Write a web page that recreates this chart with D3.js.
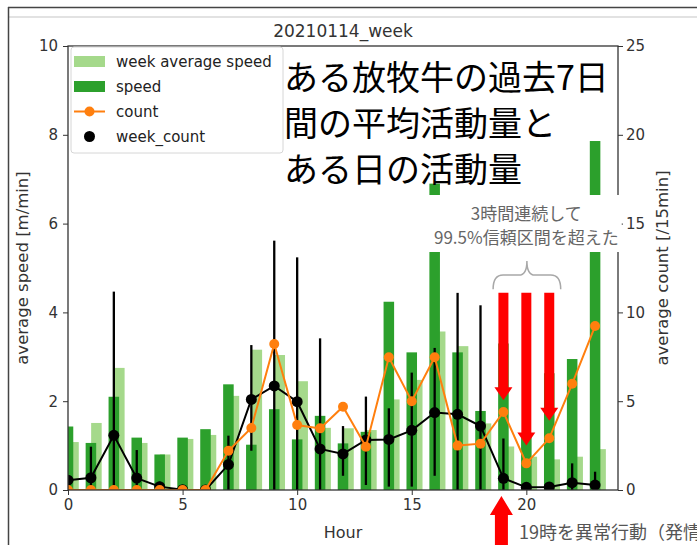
<!DOCTYPE html>
<html>
<head>
<meta charset="utf-8">
<script src="https://cdn.jsdelivr.net/npm/d3@7"></script>
<style>
body { margin: 0; background: #fff; }
svg { display: block; font-family: "DejaVu Sans", sans-serif; }
.jp { font-family: "Noto Sans CJK JP", sans-serif; }
</style>
</head>
<body>
<div class="container"></div>
<script>
// values, one per hour
var hours = [0,1,2,3,4,5,6,7,8,9,10,11,12,13,14,15,16,17,18,19,20,21,22,23];
var weekSpeed = [1.08,1.51,2.75,1.06,0.80,1.15,1.24,2.12,3.16,3.04,2.45,1.40,1.39,1.35,2.04,2.48,3.57,3.24,1.50,0.98,0.75,0.69,0.75,0.92];
var speed = [1.43,1.06,2.10,1.18,0.80,1.18,1.37,2.38,1.02,1.82,1.14,1.67,1.05,1.31,4.24,3.10,6.90,3.10,1.78,3.30,1.20,2.63,2.95,7.86];
var count = [0,0,0,0,0,0,0,2.21,3.49,8.22,3.66,3.47,4.69,2.44,7.47,5.00,7.47,2.50,2.61,4.39,1.50,2.91,5.98,9.23];
var weekCount = [0.55,0.69,3.08,0.67,0.19,0.02,0.00,1.43,5.10,5.86,4.97,2.31,2.03,2.82,2.85,3.36,4.36,4.26,3.60,0.66,0.15,0.17,0.41,0.28];
var weekCountLow = [0.35,0.10,0.10,0.10,0.00,0.00,0.00,0.00,2.21,0.00,0.00,0.00,0.80,0.28,0.19,0.19,0.80,0.00,0.00,0.00,0.00,0.00,0.00,0.00];
var weekCountHigh = [0.75,2.44,11.17,2.25,0.47,0.10,0.00,3.06,8.16,14.04,13.10,8.54,3.60,5.26,4.60,6.61,8.00,11.10,10.40,2.90,0.30,0.30,1.50,1.03];

var xTicks = [0,5,10,15,20];
var speedTicks = [0,2,4,6,8,10];
var countTicks = [0,5,10,15,20,25];

var titleText = '20210114_week';
var legendLabels = ['week average speed', 'speed', 'count', 'week_count'];
var noteLines = ['ある放牧牛の過去7日', '間の平均活動量と', 'ある日の活動量'];
var alertLines = ['3時間連続して', '99.5%信頼区間を超えた'];
var abnormalText = '19時を異常行動（発情）';

// red arrows: hour, count level of the tip
var alertHours = [19, 20, 21];
var alertTip = [5.05, 2.5, 3.9];
var alertTop = 11.1;
var abnormalHour = 19;

var width = 697;
var height = 545;
var plotLeft = 68, plotRight = 618, plotTop = 46, plotBottom = 490;

var lightGreen = '#a5d98b';
var darkGreen = '#2ca02c';
var orange = '#ff7f0e';

var draw = function() {
    var svg = d3.select('.container').append('svg')
        .attr('width', width)
        .attr('height', height);

    // screenshot frame
    svg.append('line').attr('x1', 8).attr('x2', width).attr('y1', 7.5).attr('y2', 7.5)
        .attr('stroke', '#444').attr('stroke-width', 1.5);
    svg.append('line').attr('x1', 9).attr('x2', width).attr('y1', 17).attr('y2', 17)
        .attr('stroke', '#e2e2e2').attr('stroke-width', 2);
    svg.append('line').attr('x1', 8.5).attr('x2', 8.5).attr('y1', 7).attr('y2', height)
        .attr('stroke', '#444').attr('stroke-width', 1.5);

    var x = d3.scaleLinear().domain([0, 24]).range([plotLeft, plotRight]);
    var ySpeed = d3.scaleLinear().domain([0, 10]).range([plotBottom, plotTop]);
    var yCount = d3.scaleLinear().domain([0, 25]).range([plotBottom, plotTop]);

    svg.append('clipPath').attr('id', 'plot')
        .append('rect').attr('x', plotLeft).attr('y', plotTop)
        .attr('width', plotRight - plotLeft).attr('height', plotBottom - plotTop);

    var plot = svg.append('g').attr('clip-path', 'url(#plot)');
    var barW = x(0.46) - x(0);

    plot.selectAll('.week').data(hours).enter().append('rect')
        .attr('x', function(d) { return x(d + 0.24) - barW / 2; })
        .attr('y', function(d, i) { return ySpeed(weekSpeed[i]); })
        .attr('width', barW)
        .attr('height', function(d, i) { return plotBottom - ySpeed(weekSpeed[i]); })
        .attr('fill', lightGreen);

    plot.selectAll('.speed').data(hours).enter().append('rect')
        .attr('x', function(d) { return x(d) - barW / 2; })
        .attr('y', function(d, i) { return ySpeed(speed[i]); })
        .attr('width', barW)
        .attr('height', function(d, i) { return plotBottom - ySpeed(speed[i]); })
        .attr('fill', darkGreen);

    // week_count with error bars
    plot.selectAll('.err').data(hours).enter().append('line')
        .attr('x1', function(d) { return x(d); })
        .attr('x2', function(d) { return x(d); })
        .attr('y1', function(d, i) { return yCount(weekCountLow[i]); })
        .attr('y2', function(d, i) { return yCount(weekCountHigh[i]); })
        .attr('stroke', '#000').attr('stroke-width', 2.3);

    var weekLine = d3.line()
        .x(function(d) { return x(d); })
        .y(function(d, i) { return yCount(weekCount[i]); });
    plot.append('path').datum(hours).attr('d', weekLine)
        .attr('fill', 'none').attr('stroke', '#000').attr('stroke-width', 2);
    plot.selectAll('.wdot').data(hours).enter().append('circle')
        .attr('cx', function(d) { return x(d); })
        .attr('cy', function(d, i) { return yCount(weekCount[i]); })
        .attr('r', 5.5).attr('fill', '#000');

    var countLine = d3.line()
        .x(function(d) { return x(d); })
        .y(function(d, i) { return yCount(count[i]); });
    plot.append('path').datum(hours).attr('d', countLine)
        .attr('fill', 'none').attr('stroke', orange).attr('stroke-width', 2);
    plot.selectAll('.cdot').data(hours).enter().append('circle')
        .attr('cx', function(d) { return x(d); })
        .attr('cy', function(d, i) { return yCount(count[i]); })
        .attr('r', 5).attr('fill', orange);

    // axes
    var xAxis = d3.axisBottom(x).tickValues(xTicks).tickSize(5).tickPadding(4);
    var yAxisL = d3.axisLeft(ySpeed).tickValues(speedTicks).tickSize(5).tickPadding(5);
    var yAxisR = d3.axisRight(yCount).tickValues(countTicks).tickSize(5).tickPadding(3);

    var gx = svg.append('g').attr('transform', 'translate(0,' + plotBottom + ')').call(xAxis);
    var gl = svg.append('g').attr('transform', 'translate(' + plotLeft + ',0)').call(yAxisL);
    var gr = svg.append('g').attr('transform', 'translate(' + plotRight + ',0)').call(yAxisR);
    [gx, gl, gr].forEach(function(g) {
        g.select('.domain').remove();
        g.selectAll('line').attr('stroke', '#333');
        g.selectAll('text').attr('font-size', 15).attr('fill', '#333')
            .attr('font-family', '"DejaVu Sans", sans-serif');
    });

    svg.append('rect').attr('x', plotLeft).attr('y', plotTop)
        .attr('width', plotRight - plotLeft).attr('height', plotBottom - plotTop)
        .attr('fill', 'none').attr('stroke', '#333').attr('stroke-width', 1.3);

    svg.append('text').attr('x', (plotLeft + plotRight) / 2).attr('y', 37)
        .attr('text-anchor', 'middle').attr('font-size', 17).attr('fill', '#333')
        .text(titleText);
    svg.append('text').attr('x', (plotLeft + plotRight) / 2).attr('y', 538)
        .attr('text-anchor', 'middle').attr('font-size', 16).attr('fill', '#333')
        .text('Hour');
    svg.append('text').attr('transform', 'translate(28,' + (plotTop + plotBottom) / 2 + ') rotate(-90)')
        .attr('text-anchor', 'middle').attr('font-size', 16.5).attr('fill', '#333')
        .text('average speed [m/min]');
    svg.append('text').attr('transform', 'translate(668,' + (plotTop + plotBottom) / 2 + ') rotate(-90)')
        .attr('text-anchor', 'middle').attr('font-size', 16.5).attr('fill', '#333')
        .text('average count [/15min]');

    // legend
    var lg = svg.append('g');
    lg.append('rect').attr('x', 71).attr('y', 47).attr('width', 212).attr('height', 106)
        .attr('rx', 3).attr('fill', '#fff').attr('fill-opacity', 0.85)
        .attr('stroke', '#d6d6d6');
    var rowY = function(i) { return 61.5 + i * 25; };
    lg.append('rect').attr('x', 74).attr('y', rowY(0) - 5.5).attr('width', 31).attr('height', 11).attr('fill', lightGreen);
    lg.append('rect').attr('x', 74).attr('y', rowY(1) - 5.5).attr('width', 31).attr('height', 11).attr('fill', darkGreen);
    lg.append('line').attr('x1', 74).attr('x2', 105).attr('y1', rowY(2)).attr('y2', rowY(2))
        .attr('stroke', orange).attr('stroke-width', 2);
    lg.append('circle').attr('cx', 89.5).attr('cy', rowY(2)).attr('r', 5).attr('fill', orange);
    lg.append('circle').attr('cx', 89.5).attr('cy', rowY(3)).attr('r', 5.5).attr('fill', '#000');
    lg.selectAll('.lt').data(legendLabels).enter().append('text')
        .attr('x', 116).attr('y', function(d, i) { return rowY(i) + 5; })
        .attr('font-size', 15).attr('fill', '#222')
        .text(function(d) { return d; });

    // big note
    svg.selectAll('.note').data(noteLines).enter().append('text')
        .attr('class', 'jp')
        .attr('x', 284).attr('y', function(d, i) { return 90 + i * 46; })
        .attr('font-size', 34).attr('fill', '#000')
        .text(function(d) { return d; });

    // alert annotation
    var ag = svg.append('g');
    var cx = x(20);
    var box = ag.append('rect').attr('fill', '#fff');
    ag.selectAll('.al').data(alertLines).enter().append('text')
        .attr('class', 'jp')
        .attr('x', cx).attr('y', function(d, i) { return 219.5 + i * 24; })
        .attr('text-anchor', 'middle').attr('font-size', 17).attr('fill', '#666')
        .text(function(d) { return d; });
    var bb = ag.node().getBBox();
    box.attr('x', bb.x - 10).attr('y', 195).attr('width', bb.width + 13).attr('height', 57);

    // brace over the arrows
    var bx1 = x(18.55), bx2 = x(21.5), by1 = yCount(11.3), bym = yCount(12.1), btip = yCount(12.9);
    var bm = (bx1 + bx2) / 2;
    var brace = 'M' + bx1 + ',' + by1 +
        ' Q' + bx1 + ',' + bym + ' ' + (bx1 + 10) + ',' + bym +
        ' L' + (bm - 8) + ',' + bym +
        ' Q' + bm + ',' + bym + ' ' + bm + ',' + btip +
        ' Q' + bm + ',' + bym + ' ' + (bm + 8) + ',' + bym +
        ' L' + (bx2 - 10) + ',' + bym +
        ' Q' + bx2 + ',' + bym + ' ' + bx2 + ',' + by1;
    svg.append('path').attr('d', brace).attr('fill', 'none')
        .attr('stroke', '#a8a8a8').attr('stroke-width', 1.5);

    var downArrow = function(h, tipC) {
        var ax = x(h), y0 = yCount(alertTop), y1 = yCount(tipC);
        var sw = 5, hw = 9, hh = 13;
        return [[ax - sw, y0], [ax + sw, y0], [ax + sw, y1 - hh], [ax + hw, y1 - hh],
                [ax, y1], [ax - hw, y1 - hh], [ax - sw, y1 - hh]];
    };
    svg.selectAll('.arrow').data(alertHours).enter().append('polygon')
        .attr('points', function(d, i) { return downArrow(d, alertTip[i]).join(' '); })
        .attr('fill', '#ff0000');

    // abnormal hour arrow under the axis
    var ux = x(abnormalHour) - 2, uy = 496;
    var up = [[ux, uy], [ux + 11.5, uy + 19], [ux + 6.5, uy + 19], [ux + 6.5, height],
              [ux - 6.5, height], [ux - 6.5, uy + 19], [ux - 11.5, uy + 19]];
    svg.append('polygon').attr('points', up.join(' ')).attr('fill', '#ff0000');
    svg.append('text').attr('class', 'jp').attr('x', 519).attr('y', 539)
        .attr('font-size', 18).attr('fill', '#555').text(abnormalText);
};

window.onload = draw;
</script>
</body>
</html>
